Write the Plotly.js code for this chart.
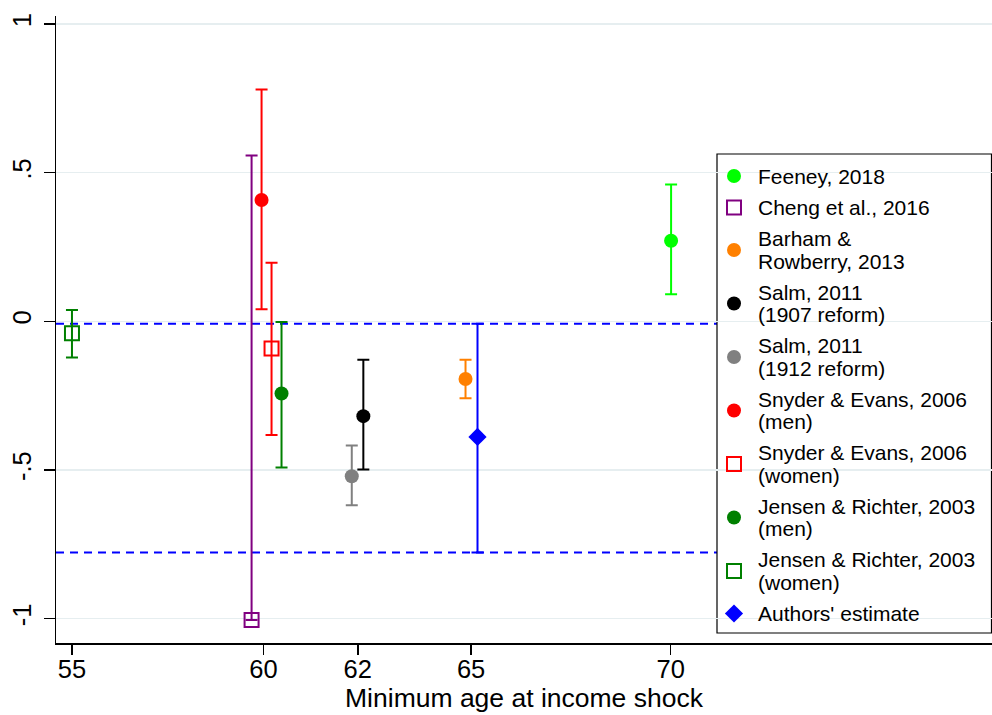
<!DOCTYPE html>
<html>
<head>
<meta charset="utf-8">
<script src="https://cdn.plot.ly/plotly-3.0.1.min.js"></script>
<style>html,body{margin:0;padding:0;background:#fff;}</style>
</head>
<body>
<div id="chart" style="width:992px;height:715px;"></div>
<script>
// Studies (legend order); "|" separates lines of a legend label
const labels = [
  "Feeney, 2018",
  "Cheng et al., 2016",
  "Barham &|Rowberry, 2013",
  "Salm, 2011|(1907 reform)",
  "Salm, 2011|(1912 reform)",
  "Snyder & Evans, 2006|(men)",
  "Snyder & Evans, 2006|(women)",
  "Jensen & Richter, 2003|(men)",
  "Jensen & Richter, 2003|(women)",
  "Authors' estimate"
];
// horizontal position on the age axis (with the small offsets used in the figure)
const xPos     = [70.01, 59.50, 64.86, 62.30, 62.01, 59.75, 60.00, 60.25, 55.00, 65.16];
const estimate = [0.271, -1.005, -0.194, -0.319, -0.521, 0.408, -0.091, -0.243, -0.040, -0.389];
const ciLow    = [0.091, -1.005, -0.259, -0.498, -0.619, 0.041, -0.382, -0.492, -0.122, -0.778];
const ciHigh   = [0.460, 0.558, -0.129, -0.129, -0.418, 0.780, 0.197, -0.002, 0.038, -0.008];
const colors   = ["#00ff00", "#800080", "#ff8000", "#000000", "#808080", "#ff0000", "#ff0000", "#008000", "#008000", "#0000ff"];
const symbols  = ["circle", "square-open", "circle", "circle", "circle", "circle", "square-open", "circle", "square-open", "diamond"];

// x-axis tick labels and where they sit
const xTickVals = [55, 59.80, 62.16, 65, 70];
const xTickText = ["55", "60", "62", "65", "70"];
const yTickVals = [-1, -0.5, 0, 0.5, 1];
const yTickText = ["-1", "-.5", "0", ".5", "1"];

const W = 992, H = 715;
const M = {l: 56, r: 0, t: 16, b: 72};
const PW = W - M.l - M.r, PH = H - M.t - M.b;
const font = "Liberation Sans, Arial, sans-serif";

const traces = labels.map((name, i) => ({
  type: "scatter",
  mode: "markers",
  name: name.replace("|", " "),
  x: [xPos[i]],
  y: [estimate[i]],
  marker: {
    symbol: symbols[i],
    size: 14,
    color: colors[i],
    line: {color: colors[i], width: symbols[i].indexOf("open") >= 0 ? 2 : 0}
  },
  error_y: {
    type: "data",
    symmetric: false,
    array: [ciHigh[i] - estimate[i]],
    arrayminus: [estimate[i] - ciLow[i]],
    color: colors[i],
    thickness: 2,
    width: 6
  },
  showlegend: false,
  hoverinfo: "skip"
}));

// ---- hand-built legend (tight two-line entries as in the figure) ----
const legBox = {left: 717, top: 154, right: 991.5, bottom: 633};
const symX = 734, textX = 757;
const lineGap = 22.5, h1 = 31.5, h2 = 53.5;
const lines = labels.map(s => s.split("|"));
const centers = [];
let cy = 176;
lines.forEach((ls, i) => {
  if (i > 0) {
    const hp = lines[i - 1].length > 1 ? h2 : h1;
    const hc = ls.length > 1 ? h2 : h1;
    cy += (hp + hc) / 2;
  }
  centers.push(cy);
});
const px2x = px => (px - M.l) / PW;
const px2y = py => (M.t + PH - py) / PH;

const annotations = [];
lines.forEach((ls, i) => {
  ls.forEach((t, k) => {
    const py = centers[i] + (k - (ls.length - 1) / 2) * lineGap;
    annotations.push({
      xref: "paper", yref: "paper",
      x: px2x(textX), y: px2y(py),
      xanchor: "left", yanchor: "middle",
      text: t, showarrow: false, borderpad: 0,
      font: {family: font, size: 21, color: "#000000"}
    });
  });
});

traces.push({
  type: "scatter",
  mode: "markers",
  xaxis: "x2", yaxis: "y2",
  x: labels.map(() => symX),
  y: centers,
  marker: {
    symbol: symbols,
    size: 14,
    color: colors,
    line: {color: colors, width: symbols.map(s => s.indexOf("open") >= 0 ? 2 : 0)}
  },
  cliponaxis: false,
  showlegend: false,
  hoverinfo: "skip"
});

const authorsIdx = labels.length - 1;
const dashY = [ciLow[authorsIdx], ciHigh[authorsIdx]];
const shapes = dashY.map(v => ({
  type: "line", xref: "paper", x0: 0, x1: 1, yref: "y", y0: v, y1: v,
  line: {color: "#0000ff", width: 2, dash: "8px,6px"},
  layer: "between"
}));
shapes.push({
  type: "rect", xref: "paper", yref: "paper",
  x0: px2x(legBox.left), x1: px2x(legBox.right),
  y0: px2y(legBox.bottom), y1: px2y(legBox.top),
  line: {color: "#000000", width: 1.2},
  fillcolor: "#ffffff",
  layer: "between"
});

const layout = {
  width: W,
  height: H,
  margin: {l: M.l, r: M.r, t: M.t, b: M.b, autoexpand: false},
  paper_bgcolor: "#ffffff",
  plot_bgcolor: "#ffffff",
  font: {family: font, color: "#000000", size: 21},
  showlegend: false,
  xaxis: {
    range: [54.60, 78.05],
    tickmode: "array",
    tickvals: xTickVals,
    ticktext: xTickText,
    showgrid: false,
    zeroline: false,
    showline: true,
    linecolor: "#000000",
    linewidth: 1.5,
    ticks: "outside",
    ticklen: 10,
    tickwidth: 1.5,
    tickcolor: "#000000",
    tickfont: {family: font, size: 25.5, color: "#000000"},
    ticklabelstandoff: -7,
    title: {text: "Minimum age at income shock", font: {family: font, size: 26.5, color: "#000000"}, standoff: 6}
  },
  yaxis: {
    range: [-1.082, 1.027],
    tickmode: "array",
    tickvals: yTickVals,
    ticktext: yTickText,
    tickangle: -90,
    showgrid: true,
    gridcolor: "#e6eef0",
    gridwidth: 1.5,
    zeroline: false,
    showline: true,
    linecolor: "#000000",
    linewidth: 1.5,
    ticks: "outside",
    ticklen: 11,
    tickwidth: 1.5,
    tickcolor: "#000000",
    tickfont: {family: font, size: 25.5, color: "#000000"},
    ticklabelstandoff: 2
  },
  xaxis2: {range: [M.l, W - M.r], overlaying: "x", anchor: "y2", visible: false, fixedrange: true},
  yaxis2: {range: [M.t + PH, M.t], overlaying: "y", anchor: "x2", visible: false, fixedrange: true},
  shapes: shapes,
  annotations: annotations
};

Plotly.newPlot("chart", traces, layout, {displayModeBar: false, staticPlot: true});
</script>
</body>
</html>
